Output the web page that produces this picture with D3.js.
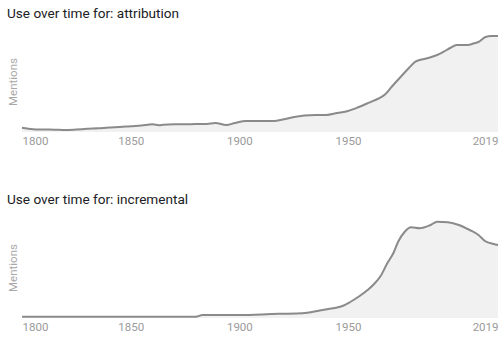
<!DOCTYPE html>
<html>
<head>
<meta charset="utf-8">
<script src="https://cdn.jsdelivr.net/npm/d3@7/dist/d3.min.js"></script>
<style>
  html, body { margin: 0; padding: 0; background: #fff; }
  svg { display: block; font-family: Roboto, "Noto Sans", sans-serif; }
</style>
</head>
<body>
<svg id="chart" width="503" height="341"></svg>
<script>
// Usage index over time (relative mentions) for two words
const tickYears = [1800, 1850, 1900, 1950, 2019];

const attributionYears = [1800, 1805, 1810, 1815, 1820, 1825, 1830, 1835, 1840, 1845,
  1850, 1855, 1860, 1863, 1865, 1870, 1875, 1880, 1885, 1889, 1894, 1898, 1903, 1910,
  1916, 1920, 1926, 1930, 1935, 1940, 1945, 1950, 1955, 1960, 1964, 1967, 1970, 1975,
  1978, 1981, 1985, 1988, 1991, 1994, 1997, 2000, 2005, 2008, 2010, 2013, 2016, 2019];
const attributionValues = [4.3, 2.8, 2.5, 2.3, 2.0, 2.5, 3.2, 3.7, 4.5, 5.0,
  5.8, 6.5, 7.7, 6.8, 7.2, 7.7, 7.8, 7.9, 8.0, 9.0, 7.0, 9.0, 11.0, 11.0,
  11.0, 12.5, 15.3, 16.5, 17.0, 17.0, 19.0, 21.0, 25.0, 29.7, 33.5, 37.5, 45.0, 57.0,
  64.0, 70.3, 73.0, 74.7, 77.0, 80.3, 84.0, 87.0, 87.0, 88.7, 90.0, 94.7, 96.0, 96.0];

const incrementalYears = [1800, 1880, 1883, 1890, 1900, 1910, 1915, 1920, 1929, 1937,
  1941, 1945, 1948, 1951, 1955, 1959, 1962, 1965, 1968, 1971, 1973, 1976, 1979, 1983,
  1988, 1991, 1996, 2001, 2006, 2010, 2013, 2017, 2019];
const incrementalValues = [1.3, 1.3, 3.0, 3.0, 3.0, 3.5, 4.0, 4.2, 4.7, 7.5,
  9.0, 10.5, 12.5, 16.0, 21.5, 28.0, 34.0, 42.0, 54.5, 65.5, 76.0, 86.0, 90.7, 89.7,
  93.0, 96.3, 95.7, 93.0, 88.0, 83.0, 77.0, 74.0, 73.0];

const panels = [
  { word: "attribution", years: attributionYears, values: attributionValues, top: 0 },
  { word: "incremental", years: incrementalYears, values: incrementalValues, top: 186 }
];

const svg = d3.select("#chart");
const x = d3.scaleLinear().domain([1800, 2019]).range([22, 498]);

panels.forEach(p => {
  const g = svg.append("g").attr("transform", `translate(0,${p.top})`);
  const baseline = 132;
  const y = d3.scaleLinear().domain([0, 96]).range([baseline, baseline - 96]);
  const data = p.years.map((yr, i) => ({ year: yr, value: p.values[i] }));

  g.append("text")
    .attr("x", 7).attr("y", 18)
    .attr("font-size", 13.6)
    .attr("fill", "#202124")
    .text("Use over time for: " + p.word);

  g.append("text")
    .attr("transform", `translate(17,82) rotate(-90)`)
    .attr("text-anchor", "middle")
    .attr("font-size", 11.5)
    .attr("fill", "#a8a8a8")
    .text("Mentions");

  const area = d3.area()
    .x(d => x(d.year)).y0(baseline).y1(d => y(d.value))
    .curve(d3.curveMonotoneX);
  const line = d3.line()
    .x(d => x(d.year)).y(d => y(d.value))
    .curve(d3.curveMonotoneX);

  g.append("path").datum(data).attr("d", area).attr("fill", "#f1f1f1");
  g.append("path").datum(data).attr("d", line)
    .attr("fill", "none").attr("stroke", "#8a8a8a").attr("stroke-width", 2)
    .attr("stroke-linejoin", "round");

  const axis = g.append("g")
    .attr("transform", `translate(0,${baseline})`)
    .call(d3.axisBottom(x).tickValues(tickYears).tickSize(0).tickPadding(5).tickFormat(d3.format("d")));
  axis.select(".domain").remove();
  axis.selectAll("text")
    .attr("font-size", 11.5)
    .attr("font-family", "Roboto, sans-serif")
    .attr("fill", "#9a9a9a")
    .attr("text-anchor", d => d === 1800 ? "start" : d === 2019 ? "end" : "middle");
});
</script>
</body>
</html>
